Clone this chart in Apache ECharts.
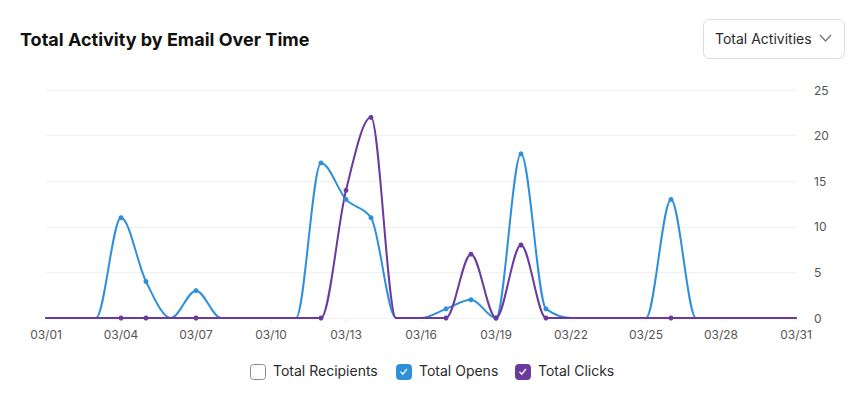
<!DOCTYPE html>
<html>
<head>
<meta charset="utf-8">
<script src="https://cdn.jsdelivr.net/npm/echarts@6/dist/echarts.min.js"></script>
<style>
html,body{margin:0;padding:0;background:#fff;}
#chart{width:864px;height:399px;}
</style>
</head>
<body>
<div id="chart"></div>
<script>
const dates = ['03/01','03/02','03/03','03/04','03/05','03/06','03/07','03/08','03/09','03/10','03/11','03/12','03/13','03/14','03/15','03/16','03/17','03/18','03/19','03/20','03/21','03/22','03/23','03/24','03/25','03/26','03/27','03/28','03/29','03/30','03/31'];
const totalOpens  = [0,0,0,11,4,0,3,0,0,0,0,17,13,11,0,0,1,2,0,18,1,0,0,0,0,13,0,0,0,0,0];
const totalClicks = [0,0,0,0,0,0,0,0,0,0,0,0,14,22,0,0,0,7,0,8,0,0,0,0,0,0,0,0,0,0,0];
const recordedDates = ['03/04','03/05','03/07','03/12','03/13','03/14','03/17','03/18','03/19','03/20','03/21','03/26'];
const yTicks = [0,5,10,15,20,25];
const legendItems = ['Total Recipients','Total Opens','Total Clicks'];
const legendChecked = [false,true,true];
const title = 'Total Activity by Email Over Time';
const dropdownLabel = 'Total Activities';

const BLUE = '#2e8fdb';
const PURPLE = '#6a3a9f';
const FONT = 'Inter, "Noto Sans", sans-serif';

// monotone cubic tangents (per category step)
function tangents(v){
  const n = v.length, t = new Array(n).fill(0);
  const sign = x => x > 0 ? 1 : x < 0 ? -1 : 0;
  for (let i = 1; i < n-1; i++){
    const s0 = v[i]-v[i-1], s1 = v[i+1]-v[i], p = (s0+s1)/2;
    t[i] = (sign(s0)+sign(s1)) * Math.min(Math.abs(s0), Math.abs(s1), 0.5*Math.abs(p)) || 0;
  }
  t[0] = (3*(v[1]-v[0]) - t[1])/2;
  t[n-1] = (3*(v[n-1]-v[n-2]) - t[n-2])/2;
  return t;
}

function curveSeries(name, vals, color, z){
  const tg = tangents(vals);
  const segData = vals.slice(0, -1).map((v,i)=>[i, v, vals[i+1], tg[i], tg[i+1]]);
  return {
    name, type:'custom', z, silent:true,
    data: segData,
    encode:{x:0, y:[1,2]},
    renderItem(params, api){
      const i = api.value(0), v0 = api.value(1), v1 = api.value(2), t0 = api.value(3), t1 = api.value(4);
      const p0 = api.coord([i, v0]), p1 = api.coord([i+1, v1]);
      const dx = p1[0]-p0[0];
      const c1y = api.coord([i, v0 + t0/3])[1];
      const c2y = api.coord([i+1, v1 - t1/3])[1];
      return {type:'bezierCurve',
        shape:{x1:p0[0], y1:p0[1], x2:p1[0], y2:p1[1], cpx1:p0[0]+dx/3, cpy1:c1y, cpx2:p1[0]-dx/3, cpy2:c2y},
        style:{stroke:color, lineWidth:2, fill:null, lineCap:'round'}};
    }
  };
}

function pointSeries(name, vals, color, z){
  return {name, type:'scatter', z, symbol:'circle', symbolSize:5, silent:true,
    itemStyle:{color, opacity:1},
    data: dates.map((d,i)=>[d, vals[i]]).filter(p=>recordedDates.includes(p[0]))};
}

const chart = echarts.init(document.getElementById('chart'), null, {renderer:'svg'});

const legendColors = ['#fff', BLUE, PURPLE];
const legendX = [250, 396, 515];
const graphics = [];
legendItems.forEach((name,i)=>{
  const x = legendX[i], y = 364;
  graphics.push({type:'rect', left:x, top:y, shape:{width:15,height:15,r:3},
    style:{fill:legendColors[i], stroke: legendChecked[i] ? legendColors[i] : '#8a8a8a', lineWidth:1}});
  if (legendChecked[i]) {
    graphics.push({type:'polyline', shape:{points:[[x+4.5,y+7.8],[x+6.8,y+10.2],[x+10.8,y+5]]},
      style:{stroke:'#fff', lineWidth:1.3, fill:null}});
  }
  graphics.push({type:'text', left:x+23, top:y-0.5, style:{text:name, font:'14px '+FONT, fill:'#2b2b2b'}});
});
// dropdown
graphics.push({type:'rect', left:703, top:19, shape:{width:141,height:39,r:6}, style:{fill:'#fff', stroke:'#dcdcdc', lineWidth:1}});
graphics.push({type:'text', left:715, top:31, style:{text:dropdownLabel, font:'14px '+FONT, fill:'#2b2b2b'}});
graphics.push({type:'polyline', shape:{points:[[820,35],[825.5,41],[831,35]]}, style:{stroke:'#777', lineWidth:1.4, fill:null}});

chart.setOption({
  animation:false,
  title:{text:title, left:15, top:25, textStyle:{fontFamily:FONT, fontSize:18, fontWeight:'bold', color:'#111'}},
  grid:{left:46, right:68, top:90, bottom:81},
  xAxis:{type:'category', data:dates, boundaryGap:false,
    axisLine:{show:false},
    axisTick:{show:true, interval:2, length:4, inside:false, lineStyle:{color:'#eceef3'}},
    axisLabel:{interval:2, color:'#555', fontFamily:FONT, fontSize:12, margin:10},
    splitLine:{show:false}},
  yAxis:{type:'value', position:'right', min:0, max:25, interval:5,
    axisLine:{show:false}, axisTick:{show:false},
    axisLabel:{color:'#555', fontFamily:FONT, fontSize:12, margin:18},
    splitLine:{lineStyle:{color:'#eef0f5', width:1}}},
  series:[
    curveSeries('Total Opens', totalOpens, BLUE, 2),
    curveSeries('Total Clicks', totalClicks, PURPLE, 3),
    pointSeries('Total Opens', totalOpens, BLUE, 4),
    pointSeries('Total Clicks', totalClicks, PURPLE, 5)
  ],
  graphic:graphics
});
</script>
</body>
</html>
